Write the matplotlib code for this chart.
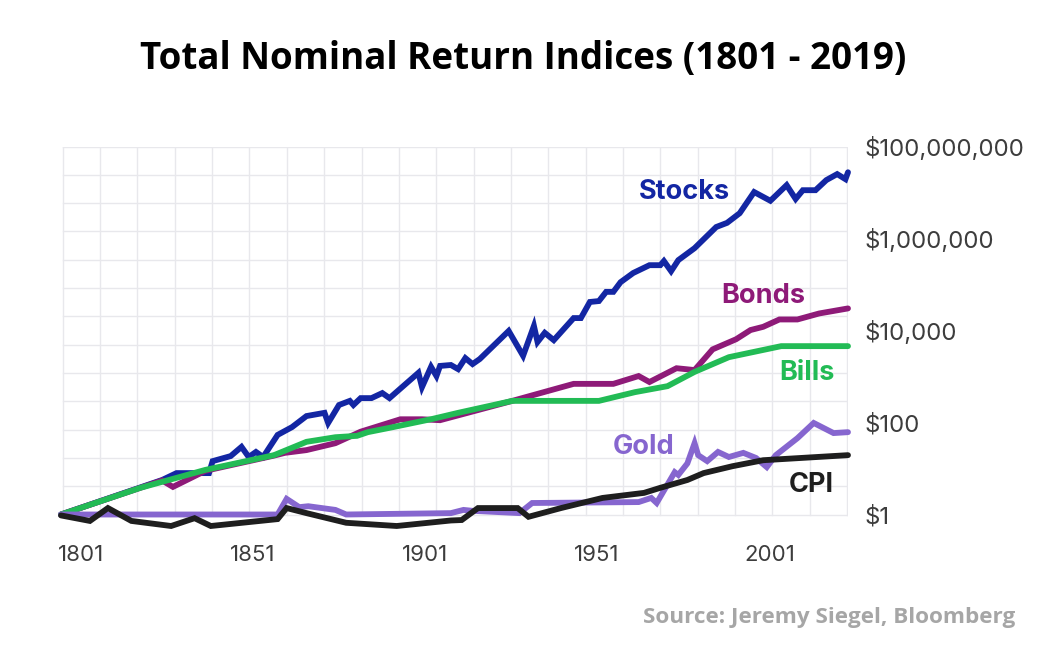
import matplotlib
matplotlib.use("Agg")
import matplotlib.pyplot as plt
import numpy as np

# values, as log10 of the index ($1 in 1801)
stock_years = [1801, 1829, 1833, 1842, 1843, 1848, 1851, 1853, 1855, 1857, 1861, 1865, 1869,
               1874, 1875, 1878, 1881, 1882, 1884, 1887, 1890, 1892, 1900, 1901, 1903.5, 1905,
               1906, 1909, 1911, 1913, 1915, 1917, 1925, 1929, 1932, 1933, 1935, 1937.5, 1943,
               1945, 1947.5, 1950, 1952, 1954, 1956, 1959.5, 1964, 1967, 1968, 1970, 1972, 1976.5,
               1982.5, 1985.5, 1989, 1993, 1997.5, 2002, 2004.5, 2006.5, 2010, 2013, 2016, 2018.3, 2019]
stock_log = [0.0, 0.75, 0.90, 0.90, 1.16, 1.27, 1.47, 1.25, 1.36, 1.25, 1.73, 1.90, 2.14,
             2.21, 1.99, 2.38, 2.47, 2.38, 2.53, 2.53, 2.64, 2.53, 3.08, 2.77, 3.21, 3.01,
             3.23, 3.25, 3.16, 3.40, 3.27, 3.38, 3.99, 3.45, 4.10, 3.75, 3.95, 3.79, 4.27,
             4.27, 4.62, 4.64, 4.84, 4.84, 5.05, 5.25, 5.42, 5.42, 5.51, 5.29, 5.53, 5.79,
             6.25, 6.34, 6.55, 7.01, 6.82, 7.16, 6.86, 7.05, 7.05, 7.27, 7.40, 7.29, 7.44]

bond_years = [1801, 1829, 1832, 1841, 1860, 1863, 1869, 1877, 1884, 1895, 1901, 1906, 1926,
              1943, 1954, 1961, 1964, 1971.5, 1976.5, 1981.5, 1988, 1992, 1995.5, 2000, 2005, 2011, 2019]
bond_log = [0.0, 0.74, 0.60, 0.95, 1.28, 1.34, 1.40, 1.55, 1.80, 2.07, 2.07, 2.05, 2.47,
            2.84, 2.84, 3.01, 2.88, 3.18, 3.14, 3.59, 3.81, 4.01, 4.08, 4.24, 4.24, 4.37, 4.48]

bill_years = [1801, 1823, 1841, 1860, 1869, 1877, 1883, 1886, 1893, 1904, 1911, 1926, 1950,
              1960, 1969, 1976.5, 1986, 2000.5, 2019]
bill_log = [0.0, 0.58, 0.97, 1.29, 1.58, 1.68, 1.71, 1.79, 1.90, 2.08, 2.21, 2.47, 2.47,
            2.66, 2.79, 3.10, 3.42, 3.66, 3.66]

gold_years = [1801, 1861, 1863.5, 1867, 1869.5, 1877, 1880, 1909, 1912.5, 1915, 1928, 1931.5,
              1961, 1964.5, 1966, 1971, 1972, 1974.5, 1976.5, 1977.5, 1980, 1983, 1986, 1990,
              1993.5, 1996.5, 1999, 2005, 2009.5, 2015, 2019]
gold_log = [0.0, 0.0, 0.34, 0.16, 0.18, 0.10, 0.0, 0.03, 0.10, 0.08, 0.03, 0.25,
            0.27, 0.36, 0.25, 0.92, 0.86, 1.11, 1.55, 1.29, 1.16, 1.36, 1.25, 1.34,
            1.23, 1.03, 1.29, 1.66, 1.99, 1.77, 1.79]

cpi_years = [1801, 1809, 1814, 1820.5, 1831.5, 1838, 1842.5, 1861, 1863.5, 1869, 1880, 1894,
             1909, 1912, 1916.5, 1927.5, 1930.5, 1939.5, 1951, 1962.5, 1967, 1974.5, 1979,
             1987, 1995.5, 2019]
cpi_log = [-0.02, -0.14, 0.14, -0.14, -0.25, -0.08, -0.25, -0.10, 0.14, 0.03, -0.18, -0.25,
           -0.13, -0.12, 0.14, 0.14, -0.05, 0.14, 0.36, 0.47, 0.58, 0.75, 0.90,
           1.05, 1.18, 1.29]

series = [
    ("Stocks", stock_years, stock_log, "#1326a3"),
    ("Bonds", bond_years, bond_log, "#8e1a78"),
    ("Bills", bill_years, bill_log, "#22bb55"),
    ("Gold", gold_years, gold_log, "#8666cf"),
    ("CPI", cpi_years, cpi_log, "#1e1e1e"),
]
# label anchors (year, value) for the in-chart names
label_pos = {
    "Stocks": (1973.6, 10**7.02),
    "Bonds": (1995.6, 10**4.75),
    "Bills": (2007.5, 10**3.08),
    "Gold": (1962.5, 10**1.47),
    "CPI": (2008.8, 10**0.64),
}

ytick_vals = [1, 1e2, 1e4, 1e6, 1e8]
ytick_labels = ["$1", "$100", "$10,000", "$1,000,000", "$100,000,000"]
xtick_years = [1806.5, 1854.2, 1901.8, 1949.5, 1997.4]
xtick_labels = ["1801", "1851", "1901", "1951", "2001"]

fig = plt.figure(figsize=(10.46, 6.58), dpi=100)
ax = fig.add_axes([61/1046, 1-535/658, 787/1046, (535-146.5)/658])
ax.set_yscale("log")
ax.set_xlim(1801, 2019)
ax.set_ylim(10**(-20.5/46), 1e8)

# light grid, 21 columns x 13 rows over $1..$100M
for gx in np.linspace(1801.5, 2018.7, 22):
    ax.plot([gx, gx], [1, 1e8], color="#e8e8ec", lw=1, zorder=0)
for gy in np.logspace(0, 8, 14):
    ax.plot([1801.5, 2018.7], [gy, gy], color="#e8e8ec", lw=1, zorder=0)

for name, yrs, lv, col in series:
    ax.plot(yrs, 10**np.array(lv), color=col, lw=4.2, solid_capstyle="round",
            solid_joinstyle="miter", clip_on=False, zorder=3)
    lx, ly = label_pos[name]
    ax.text(lx, ly, name, color=col, fontsize=19.5, fontweight="bold",
            family="Inter", ha="center", va="center", zorder=4)

for s in ax.spines.values():
    s.set_visible(False)
ax.yaxis.tick_right()
ax.set_yticks(ytick_vals)
ax.set_yticklabels(ytick_labels, family="Inter", fontsize=17.3, color="#3d3d3d")
ax.yaxis.set_minor_locator(matplotlib.ticker.NullLocator())
ax.set_xticks(xtick_years)
ax.set_xticklabels(xtick_labels, family="Inter", fontsize=16, color="#3d3d3d")
ax.tick_params(length=0)
ax.tick_params(axis="y", pad=12)
ax.tick_params(axis="x", pad=7)

fig.text(0.5, 1-69/658, "Total Nominal Return Indices (1801 - 2019)", ha="center",
         va="baseline", fontsize=26.5, fontweight="bold", family="Open Sans", color="black")
fig.text(1015/1046, 1-623/658, "Source: Jeremy Siegel, Bloomberg", ha="right",
         va="baseline", fontsize=16.2, fontweight="bold", family="Open Sans", color="#a6a6a6")

fig.savefig("out.png", dpi=100)
